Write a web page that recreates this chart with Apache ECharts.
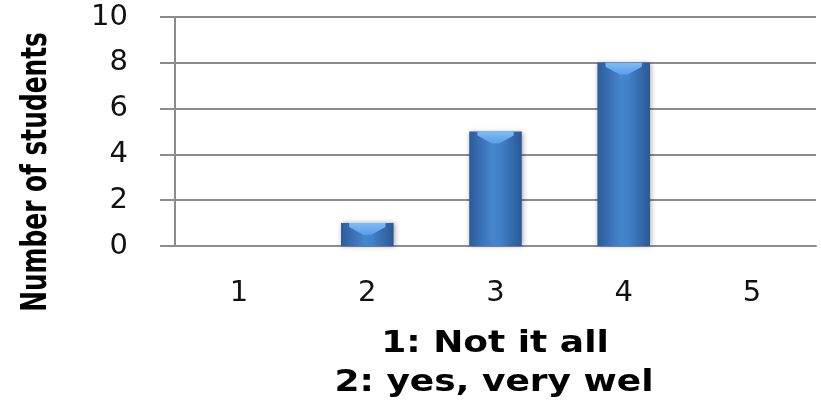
<!DOCTYPE html>
<html>
<head>
<meta charset="utf-8">
<script src="https://cdn.jsdelivr.net/npm/echarts@6/dist/echarts.min.js"></script>
<style>html,body{margin:0;padding:0;background:#fff}#c{width:821px;height:403px}</style>
</head>
<body>
<div id="c"></div>
<script>
var categories = ['1', '2', '3', '4', '5'];
var values = [0, 1, 5, 8, 0];
var yTicks = [0, 2, 4, 6, 8, 10];
var yTitle = 'Number of students';
var xTitleLines = ['1: Not it all', '2: yes, very wel'];

var chart = echarts.init(document.getElementById('c'));
var gray = '#8c8c8c';
var barGrad = new echarts.graphic.LinearGradient(0, 0, 1, 0, [
  {offset: 0, color: '#2b5c9c'},
  {offset: 0.45, color: '#4785cf'},
  {offset: 0.6, color: '#4280c9'},
  {offset: 1, color: '#2a5896'}
]);
var capGrad = new echarts.graphic.LinearGradient(0, 0, 0, 1, [
  {offset: 0, color: '#7dbcf7'},
  {offset: 1, color: '#5b9de6'}
]);
chart.setOption({
  animation: false,
  grid: {left: 175, right: 5, top: 17, bottom: 157},
  xAxis: {
    type: 'category',
    data: categories,
    axisLine: {lineStyle: {color: gray, width: 2}},
    axisTick: {show: false},
    axisLabel: {color: '#111', fontSize: 29, fontFamily: '"DejaVu Sans"', margin: 33}
  },
  yAxis: {
    type: 'value',
    min: yTicks[0],
    max: yTicks[yTicks.length - 1],
    interval: 2,
    axisLine: {show: true, lineStyle: {color: gray, width: 2}},
    axisTick: {show: true, length: 15, lineStyle: {color: gray, width: 2}},
    splitLine: {lineStyle: {color: gray, width: 2}},
    axisLabel: {color: '#111', fontSize: 29, fontFamily: '"DejaVu Sans"', margin: 47}
  },
  graphic: [{
    type: 'text',
    x: 37,
    y: 172,
    rotation: Math.PI / 2,
    scaleX: 0.69,
    style: {
      text: yTitle,
      fill: '#000',
      font: 'bold 36px "DejaVu Sans"',
      textAlign: 'center',
      textVerticalAlign: 'middle'
    }
  }, {
    type: 'text',
    x: 495,
    y: 344,
    scaleX: 1.2,
    style: {
      text: xTitleLines[0],
      fill: '#000',
      font: 'bold 30px "DejaVu Sans"',
      textAlign: 'center',
      textVerticalAlign: 'middle'
    }
  }, {
    type: 'text',
    x: 494,
    y: 383,
    scaleX: 1.2,
    style: {
      text: xTitleLines[1],
      fill: '#000',
      font: 'bold 30px "DejaVu Sans"',
      textAlign: 'center',
      textVerticalAlign: 'middle'
    }
  }],
  series: [{
    type: 'bar',
    data: values,
    barWidth: '41%',
    itemStyle: {color: barGrad, shadowColor: 'rgba(0,0,0,0.35)', shadowBlur: 5, shadowOffsetX: 1, shadowOffsetY: 0}
  }, {
    type: 'pictorialBar',
    data: values.map(function (v) { return v > 0 ? v : null; }),
    symbol: 'path://M0,0 L30,0 L30,4 L18,12 L12,12 L0,4 Z',
    symbolSize: ['41%', 12],
    symbolPosition: 'end',
    barGap: '-100%',
    z: 3,
    itemStyle: {color: capGrad}
  }]
});
</script>
</body>
</html>
